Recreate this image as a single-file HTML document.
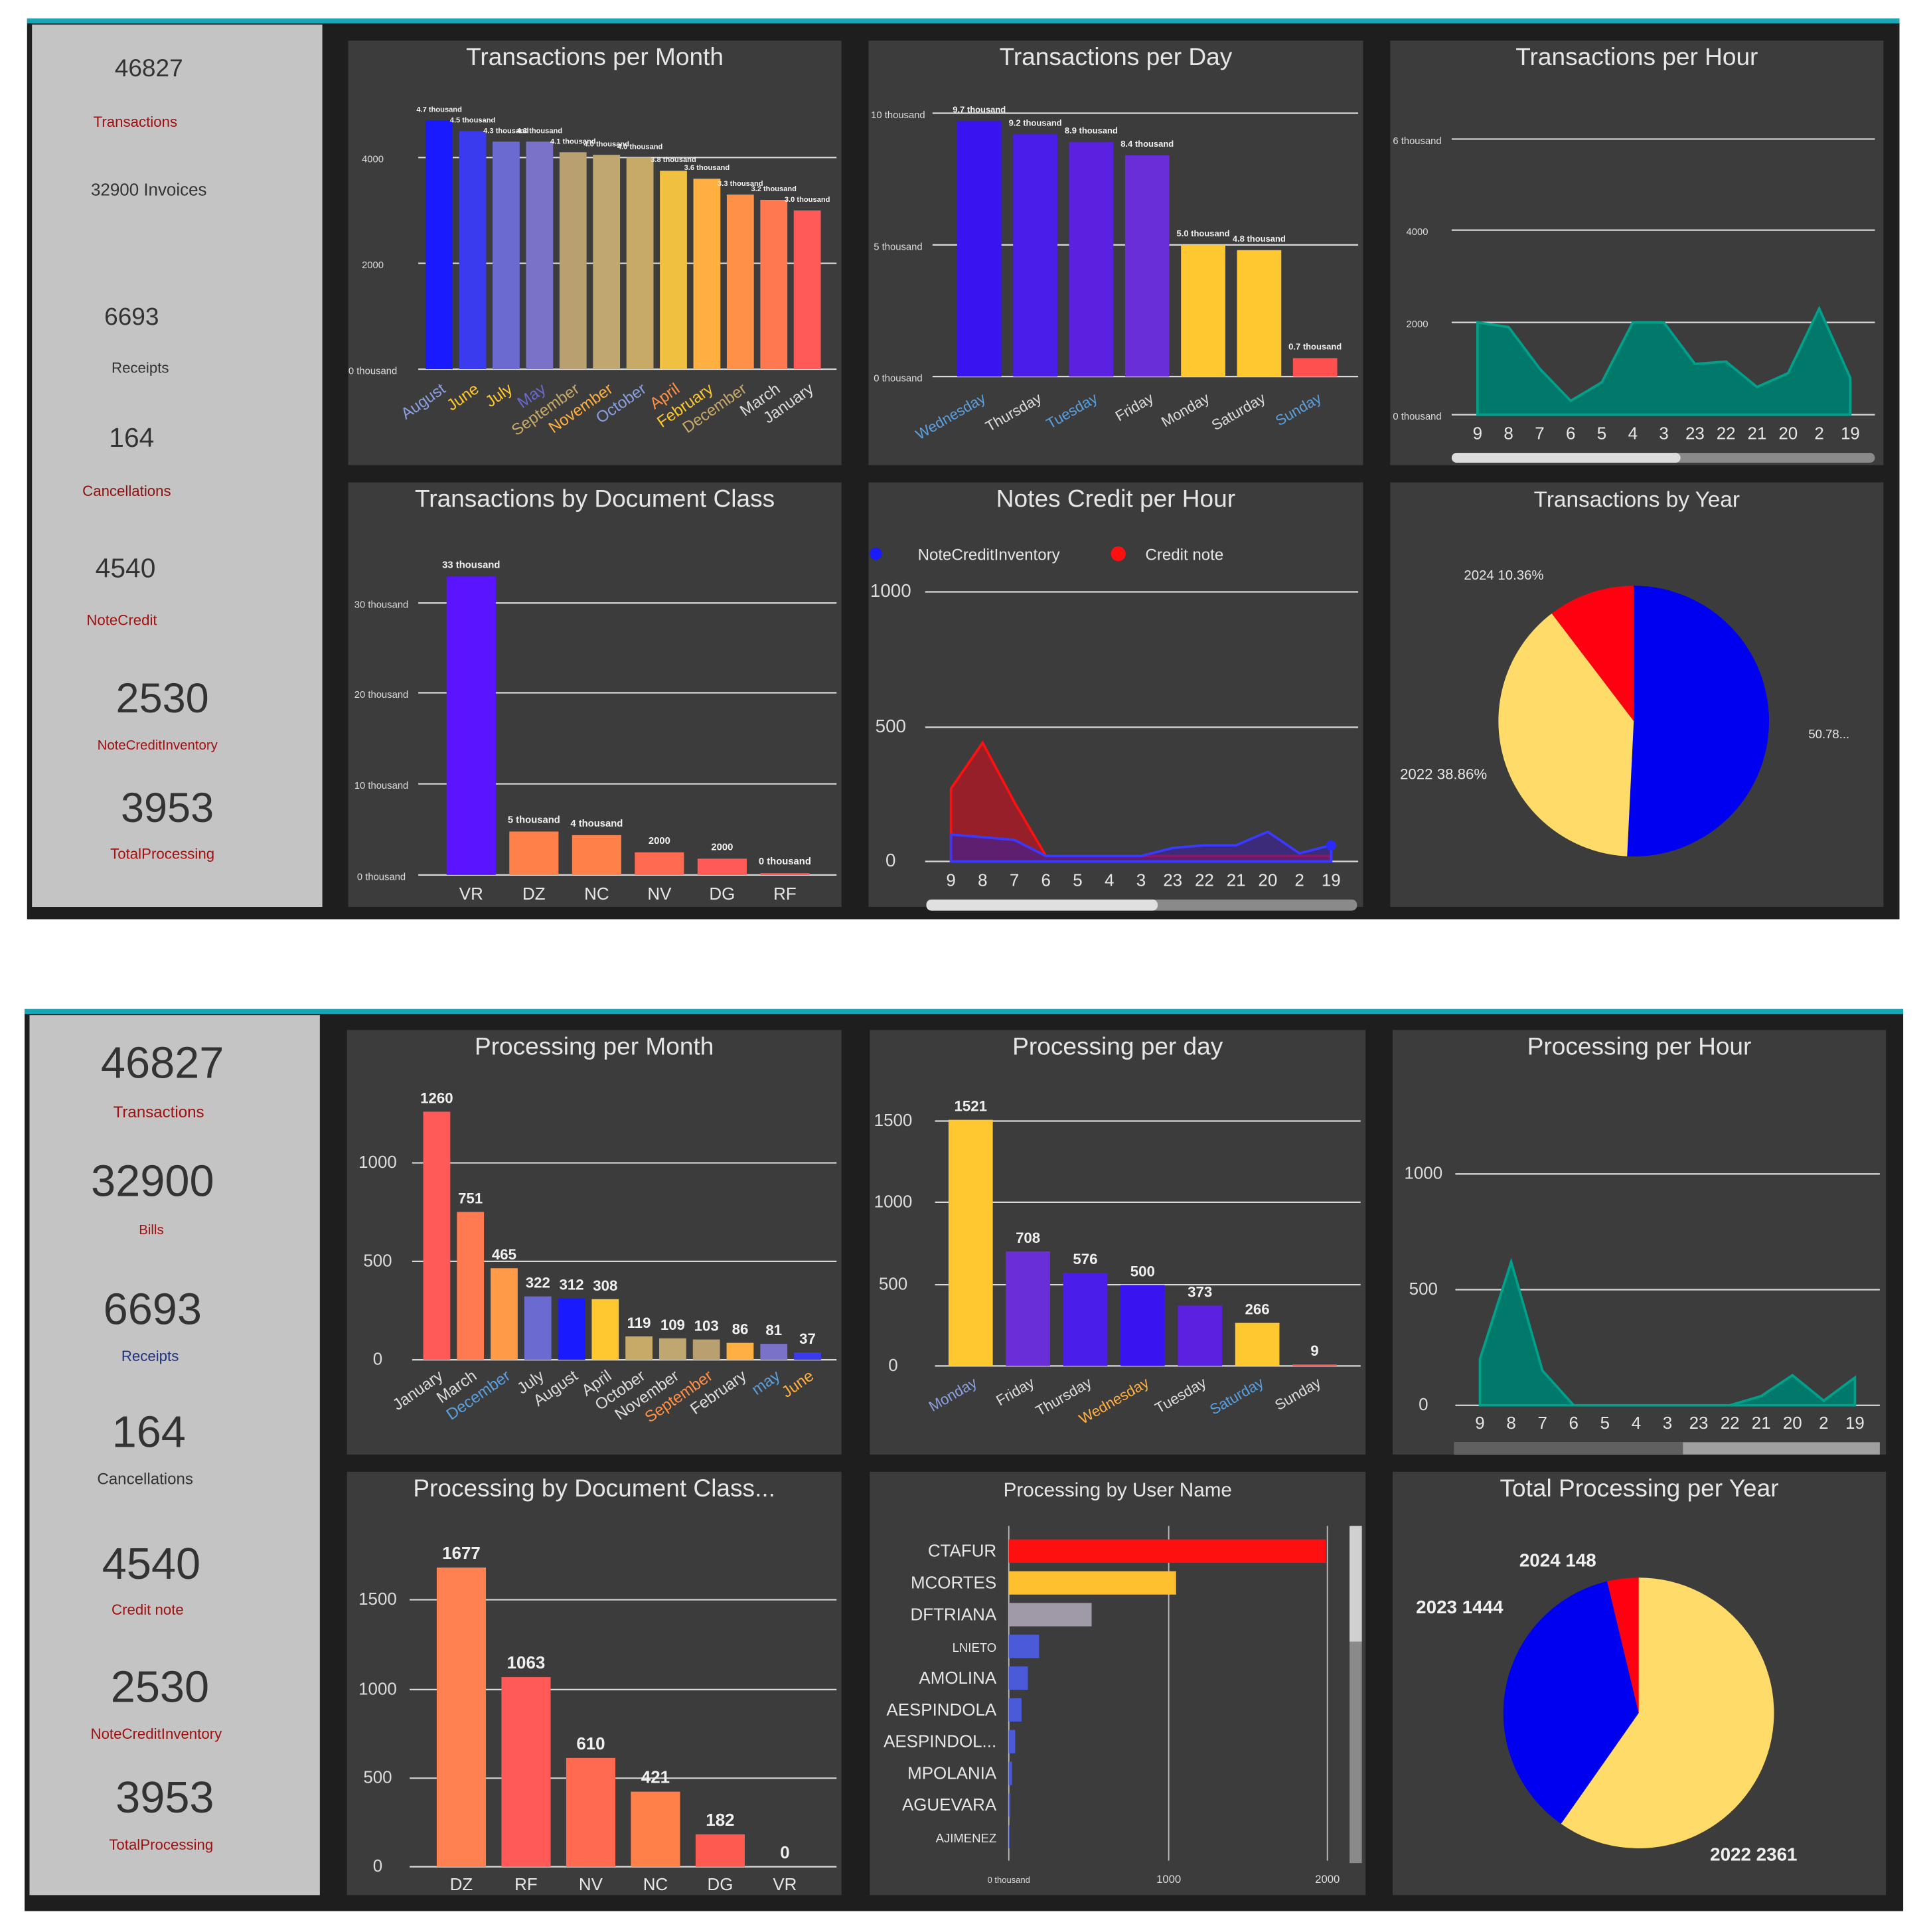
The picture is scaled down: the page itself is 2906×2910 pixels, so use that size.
<!DOCTYPE html>
<html><head><meta charset="utf-8"><style>
html,body{margin:0;padding:0;background:#fff;}
svg{display:block;font-family:"Liberation Sans",sans-serif;}
</style></head><body>
<svg id="s" width="2906" height="2910" viewBox="0 0 1568 1570" preserveAspectRatio="none" xmlns="http://www.w3.org/2000/svg">
<rect x="0" y="0" width="1568" height="1570" fill="#ffffff"/>
<g>
<rect x="22" y="15" width="1522" height="732" fill="#1e1e1e"/>
<rect x="22" y="15" width="1522" height="4" fill="#1aa6b4"/>
<rect x="26" y="20" width="236" height="717" fill="#c4c4c4"/>
</g>
<g>
<rect x="20" y="820" width="1527" height="733" fill="#1e1e1e"/>
<rect x="20" y="820" width="1527" height="4" fill="#1aa6b4"/>
<rect x="24" y="825" width="236" height="715" fill="#c4c4c4"/>
</g>
<g id="root"></g>
</svg>
<script>
// ---- data ----
const tMonthCats=["August","June","July","May","September","November","October","April","February","December","March","January"];
const tMonthVals=[4700,4500,4300,4300,4100,4050,4000,3750,3600,3300,3200,3000];
const tDayCats=["Wednesday","Thursday","Tuesday","Friday","Monday","Saturday","Sunday"];
const tDayVals=[9700,9200,8900,8400,5000,4800,700];
const hourCats=["9","8","7","6","5","4","3","23","22","21","20","2","19"];
const tHourVals=[2000,1900,1000,300,700,2000,2000,1100,1150,600,900,2300,800];
const tDocCats=["VR","DZ","NC","NV","DG","RF"];
const tDocVals=[33000,4800,4400,2500,1800,200];
const ncInvVals=[100,90,80,20,20,20,20,50,60,60,110,30,60];
const ncCreditVals=[270,440,220,20,20,20,20,20,20,20,20,20,20];
const tYearLabels=["2023","2022","2024"];
const tYearVals=[50.78,38.86,10.36];
const pMonthCats=["January","March","December","July","August","April","October","November","September","February","may","June"];
const pMonthVals=[1260,751,465,322,312,308,119,109,103,86,81,37];
const pDayCats=["Monday","Friday","Thursday","Wednesday","Tuesday","Saturday","Sunday"];
const pDayVals=[1521,708,576,500,373,266,9];
const pHourVals=[200,620,150,0,0,0,0,0,0,40,130,20,120];
const pDocCats=["DZ","RF","NV","NC","DG","VR"];
const pDocVals=[1677,1063,610,421,182,0];
const userNames=["CTAFUR","MCORTES","DFTRIANA","LNIETO","AMOLINA","AESPINDOLA","AESPINDOL...","MPOLANIA","AGUEVARA","AJIMENEZ"];
const userVals=[1990,1050,520,190,120,80,40,20,10,5];
const pYearLabels=["2022","2023","2024"];
const pYearVals=[2361,1444,148];

const NS="http://www.w3.org/2000/svg";
const root=document.getElementById('root');
function mk(tag,attrs,name,parent){
  const el=document.createElementNS(NS,tag);
  for(const k in attrs) el.setAttribute(k,attrs[k]);
  
  
  (parent||root).appendChild(el);
  return el;
}
function txt(x,y,s,size,fill,name,anchor,extra){
  const a=Object.assign({x:x,y:y,'font-size':size,fill:fill,'text-anchor':anchor||'middle'},extra||{});
  const t=mk('text',a,name);
  t.textContent=s;
  return t;
}
function panel(x,y,w,h,title,name,tsize){
  mk('rect',{x:x,y:y,width:w,height:h,fill:'#3c3c3c'},name);
  txt(x+w/2,y+20,title,tsize||20,'#e6e6e6',name+'-title');
}
function grid(x1,x2,ys,labels,lx,name,size,anchor){
  ys.forEach((y,i)=>{
    mk('line',{x1:x1,x2:x2,y1:y,y2:y,stroke:'#d8d8d8','stroke-width':1.2},name+'-gridline');
    txt(lx,y+4,labels[i],size||8,'#dcdcdc',name+'-tick-label',anchor||'middle');
  });
}
function vbars(o){
  o.vals.forEach((v,i)=>{
    const x=o.x0+i*o.step, h=v*o.k;
    mk('rect',{x:x,y:o.base-h,width:o.w,height:Math.max(h,0),fill:o.colors[i%o.colors.length]},o.name+'-bar');
    if(o.vlabels) txt(x+o.w/2,o.base-h-7,o.vlabels(v),o.vsize||12,'#f0f0f0',o.name+'-value-label','middle',{'font-weight':'bold'});
    const lx=x+o.w/2, ly=o.ly;
    if(o.rot) txt(lx+6,ly,o.cats[i],o.csize||12,o.ccolors?o.ccolors[i%o.ccolors.length]:'#ddd',o.name+'-category-label','end',{transform:`rotate(${o.rot} ${lx+6} ${ly})`});
    else txt(lx,ly,o.cats[i],o.csize||14,'#e6e6e6',o.name+'-category-label');
  });
}
function area(x0,step,vals,base,k,fill,stroke,name,op){
  let d=`M${x0},${base}`;
  vals.forEach((v,i)=>{d+=` L${x0+i*step},${base-v*k}`;});
  d+=` L${x0+(vals.length-1)*step},${base} Z`;
  mk('path',{d:d,fill:fill,'fill-opacity':op||1,stroke:stroke,'stroke-width':2},name);
}
function hourLabels(x0,step,y,name){
  hourCats.forEach((c,i)=>txt(x0+i*step,y,c,14,'#e6e6e6',name+'-hour-label'));
}
function pie(cx,cy,r,vals,colors,name){
  const tot=vals.reduce((a,b)=>a+b,0);let a=0;
  vals.forEach((v,i)=>{
    const a1=a+v/tot*2*Math.PI;
    const x0=cx+r*Math.sin(a),y0=cy-r*Math.cos(a),x1=cx+r*Math.sin(a1),y1=cy-r*Math.cos(a1);
    mk('path',{d:`M${cx},${cy} L${x0},${y0} A${r},${r} 0 ${a1-a>Math.PI?1:0} 1 ${x1},${y1} Z`,fill:colors[i]},name+'-slice');
    a=a1;
  });
}
const monthColors=["#1a1aff","#3a3aee","#6a6ad0","#7a72c8","#b8a070","#c0a670","#c8aa68","#f0c040","#ffb040","#ff9048","#ff7850","#ff5a58"];
const monthLblColors=["#8aa0e0","#ffc830","#ffc830","#6a6ad0","#c8aa68","#ffb040","#8aa0e0","#ff9048","#ffc830","#c8aa68","#ddd","#ddd"];

// ---------- TOP ----------
panel(283,33,401,345,'Transactions per Month','transactions-per-month-panel');
grid(340,680,[128,214,300],['4000','2000','0 thousand'],303,'transactions-month');
vbars({name:'transactions-month',vals:tMonthVals,cats:tMonthCats,x0:346,step:27.2,w:22,base:300,k:0.043,colors:monthColors,rot:-35,ly:318,csize:13,ccolors:monthLblColors,vlabels:v=>(v/1000).toFixed(1)+' thousand',vsize:6});

panel(706,33,402,345,'Transactions per Day','transactions-per-day-panel');
grid(758,1104,[92,199,306],['10 thousand','5 thousand','0 thousand'],730,'transactions-day');
vbars({name:'transactions-day',vals:tDayVals,cats:tDayCats,x0:778,step:45.5,w:36,base:306,k:0.0214,colors:["#3a14f0","#4a1ee8","#5a22e0","#6a2ed8","#ffc830","#ffc830","#ff5050"],rot:-30,ly:326,csize:12,ccolors:["#5aa0e0","#ddd","#5aa0e0","#ddd","#ddd","#ddd","#5aa0e0"],vlabels:v=>(v/1000).toFixed(1)+' thousand',vsize:7});

panel(1130,33,401,345,'Transactions per Hour','transactions-per-hour-panel');
grid(1180,1524,[113,187,262,337],['6 thousand','4000','2000','0 thousand'],1152,'transactions-hour');
area(1201,25.25,tHourVals,337,0.0375,'#00796b','#00a08a','transactions-hour-area');
hourLabels(1201,25.25,357,'transactions-hour');
mk('rect',{x:1180,y:368,width:344,height:8,rx:4,fill:'#8a8a8a'},'transactions-hour-scrollbar');
mk('rect',{x:1180,y:368,width:186,height:8,rx:4,fill:'#dcdcdc'},'transactions-hour-scroll-thumb');

panel(283,392,401,345,'Transactions by Document Class','transactions-by-doc-class-panel');
grid(340,680,[490,563,637,711],['30 thousand','20 thousand','10 thousand','0 thousand'],310,'transactions-doc');
vbars({name:'transactions-doc',vals:tDocVals,cats:tDocCats,x0:363,step:51,w:40,base:711,k:0.00735,colors:["#5a14ff","#ff8048","#ff8048","#ff6a50","#ff5a58","#ff5050"],ly:731,csize:14,vlabels:v=>v>=3000?Math.round(v/1000)+' thousand':(v>=1000?'2000':'0 thousand'),vsize:8});

panel(706,392,402,345,'Notes Credit per Hour','notes-credit-per-hour-panel');
mk('circle',{cx:712,cy:450,r:5,fill:'#1a1aff'},'legend-marker-notecreditinventory');
txt(746,455,'NoteCreditInventory',13,'#e6e6e6','legend-entry-notecreditinventory','start');
mk('circle',{cx:909,cy:450,r:6,fill:'#ff1010'},'legend-marker-credit-note');
txt(931,455,'Credit note',13,'#e6e6e6','legend-entry-credit-note','start');
grid(752,1104,[481,591,700],['1000','500','0'],724,'notes-credit',15);
area(773,25.75,ncCreditVals,700,0.219,'#a01c28','#ff1010','notes-credit-area-credit-note',0.9);
area(773,25.75,ncInvVals,700,0.219,'#3a20a0','#3a3aff','notes-credit-area-inventory',0.6);
mk('circle',{cx:1082,cy:687,r:4,fill:'#2a2aff'},'notes-credit-point');
hourLabels(773,25.75,720,'notes-credit');
mk('rect',{x:753,y:731,width:350,height:9,rx:4,fill:'#8a8a8a'},'notes-credit-scrollbar');
mk('rect',{x:753,y:731,width:188,height:9,rx:4,fill:'#e0e0e0'},'notes-credit-scroll-thumb');

panel(1130,392,401,345,'Transactions by Year','transactions-by-year-panel',18);
pie(1328,586,110,tYearVals,['#0000f0','#ffdc6a','#ff0010'],'transactions-year');
txt(1190,471,tYearLabels[2]+' '+tYearVals[2].toFixed(2)+'%',11,'#e6e6e6','pie-label-2024','start');
txt(1138,633,tYearLabels[1]+' '+tYearVals[1].toFixed(2)+'%',12,'#e6e6e6','pie-label-2022','start');
txt(1470,600,tYearVals[0].toFixed(2).slice(0,5)+'...',10,'#e6e6e6','pie-label-2023','start');

// KPIs top
const kpiTop=[[121,62,'46827',20],[110,103,'Transactions',12,'#a01010'],[121,159,'32900 Invoices',14],[107,264,'6693',20],[114,303,'Receipts',12],[107,363,'164',22],[103,403,'Cancellations',12,'#8a1010'],[102,469,'4540',22],[99,508,'NoteCredit',12,'#a01010'],[132,579,'2530',34],[128,609,'NoteCreditInventory',11,'#a01010'],[136,668,'3953',34],[132,698,'TotalProcessing',12,'#a01010']];
kpiTop.forEach(k=>txt(k[0],k[1],k[2],k[3],k[4]||'#333','kpi-top-'+k[2].toLowerCase().replace(/[^a-z0-9]+/g,'-')));

// ---------- BOTTOM ----------
panel(282,837,402,345,'Processing per Month','processing-per-month-panel');
grid(335,680,[945,1025,1105],['1000','500','0'],307,'processing-month',14);
vbars({name:'processing-month',vals:pMonthVals,cats:pMonthCats,x0:344,step:27.4,w:22,base:1105,k:0.16,colors:["#ff5a58","#ff7a50","#ff9a48","#6a6ad0","#1a1aff","#ffc830","#c8aa68","#c0a670","#b8a070","#ffb040","#7a72c8","#3a3aee"],rot:-35,ly:1120,csize:13,ccolors:["#ddd","#ddd","#5aa0e0","#ddd","#ddd","#ddd","#ddd","#ddd","#ff9048","#ddd","#5aa0e0","#ffb040"],vlabels:v=>String(v),vsize:12});

panel(707,837,403,345,'Processing per day','processing-per-day-panel');
grid(760,1106,[911,977,1044,1110],['1500','1000','500','0'],726,'processing-day',14);
vbars({name:'processing-day',vals:pDayVals,cats:pDayCats,x0:771,step:46.6,w:36,base:1110,k:0.1315,colors:["#ffc830","#6a2ed8","#4a1ee8","#3a14f0","#5a22e0","#ffc830","#ff5050"],rot:-30,ly:1126,csize:12,ccolors:["#8aa0e0","#ddd","#ddd","#ffb040","#ddd","#5aa0e0","#ddd"],vlabels:v=>String(v),vsize:12});

panel(1132,837,401,345,'Processing per Hour','processing-per-hour-panel');
grid(1183,1528,[954,1048,1142],['1000','500','0'],1157,'processing-hour',14);
area(1203,25.4,pHourVals,1142,0.188,'#00796b','#00a08a','processing-hour-area');
hourLabels(1203,25.4,1161,'processing-hour');
mk('rect',{x:1182,y:1172,width:346,height:10,fill:'#a0a0a0'},'processing-hour-scrollbar');
mk('rect',{x:1182,y:1172,width:186,height:10,fill:'#606060'},'processing-hour-scroll-thumb');

panel(282,1196,402,344,'Processing by Document Class...','processing-by-doc-class-panel');
grid(333,680,[1300,1373,1445,1517],['1500','1000','500','0'],307,'processing-doc',14);
vbars({name:'processing-doc',vals:pDocVals,cats:pDocCats,x0:355,step:52.6,w:40,base:1517,k:0.145,colors:["#ff8050","#ff5a58","#ff6a50","#ff8048","#ff5a50","#ff5050"],ly:1536,csize:14,vlabels:v=>String(v),vsize:14});

panel(707,1196,403,344,'Processing by User Name','processing-by-user-panel',16);
[820,950,1079].forEach((x,i)=>mk('line',{x1:x,x2:x,y1:1240,y2:1512,stroke:'#bbb','stroke-width':1},'user-gridline'));
txt(820,1530,'0 thousand',7,'#ddd','user-tick-label');
txt(950,1530,'1000',9,'#ddd','user-tick-label');
txt(1079,1530,'2000',9,'#ddd','user-tick-label');
const userColors=["#ff1010","#ffc030","#a09aa8","#4a5ad8","#4a5ad8","#4a5ad8","#4a5ad8","#4a5ad8","#4a5ad8","#4a5ad8"];
userNames.forEach((n,i)=>{
  const y=1260+i*25.8;
  mk('rect',{x:820,y:y-9,width:userVals[i]*0.1295,height:19,fill:userColors[i]},'user-bar');
  txt(810,y+5,n,i===3||i===9?10:14,'#e6e6e6','user-name-label','end');
});
mk('rect',{x:1097,y:1240,width:10,height:274,fill:'#8a8a8a'},'user-scrollbar');
mk('rect',{x:1097,y:1240,width:10,height:94,fill:'#d0d0d0'},'user-scroll-thumb');

panel(1132,1196,401,344,'Total Processing per Year','total-processing-per-year-panel');
pie(1332,1392,110,pYearVals,['#ffdc6a','#0000f0','#ff0010'],'processing-year');
txt(1235,1273,pYearLabels[2]+' '+pYearVals[2],15,'#f0f0f0','pie-label-2024','start',{'font-weight':'bold'});
txt(1151,1311,pYearLabels[1]+' '+pYearVals[1],15,'#f0f0f0','pie-label-2023','start',{'font-weight':'bold'});
txt(1390,1512,pYearLabels[0]+' '+pYearVals[0],15,'#f0f0f0','pie-label-2022','start',{'font-weight':'bold'});

const kpiBot=[[132,876,'46827',36],[129,908,'Transactions',13,'#a01010'],[124,972,'32900',36],[123,1003,'Bills',11,'#a01010'],[124,1076,'6693',36],[122,1106,'Receipts',12,'#203080'],[121,1176,'164',36],[118,1206,'Cancellations',13],[123,1283,'4540',36],[120,1312,'Credit note',12,'#a01010'],[130,1383,'2530',36],[127,1413,'NoteCreditInventory',12,'#a01010'],[134,1473,'3953',36],[131,1503,'TotalProcessing',12,'#a01010']];
kpiBot.forEach(k=>txt(k[0],k[1],k[2],k[3],k[4]||'#333','kpi-bottom-'+k[2].toLowerCase().replace(/[^a-z0-9]+/g,'-')));
</script>
</body></html>
